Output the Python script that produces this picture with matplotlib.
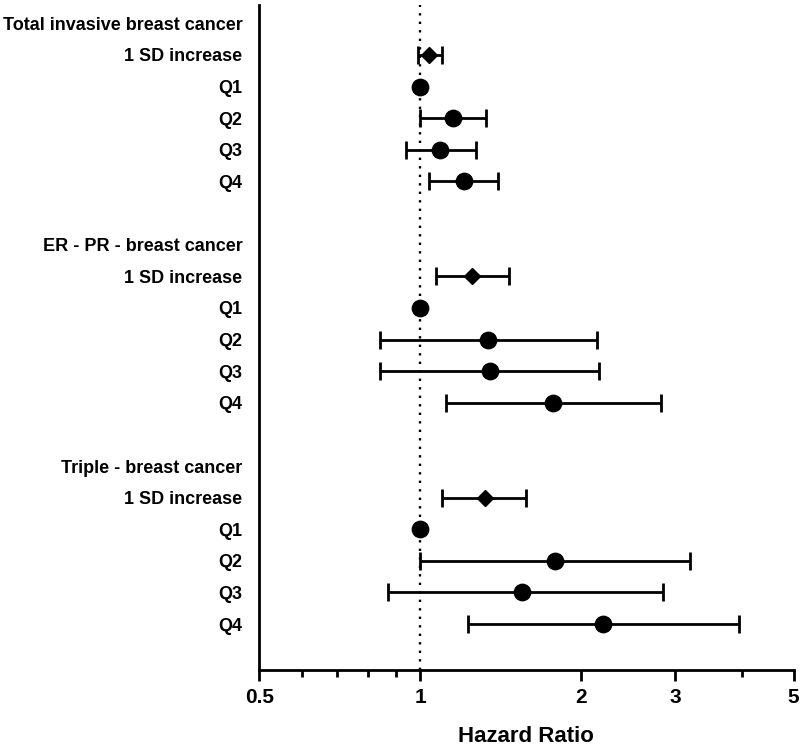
import matplotlib
matplotlib.use("Agg")
import matplotlib.pyplot as plt
import numpy as np
from matplotlib.ticker import FixedLocator, FixedFormatter, NullFormatter

plt.rcParams['font.family'] = ['Liberation Sans', 'DejaVu Sans']
plt.rcParams['font.weight'] = 'bold'

# Row labels (top to bottom); blank strings are spacer rows
row_labels = [
    "Total invasive breast cancer", "1 SD increase", "Q1", "Q2", "Q3", "Q4", "",
    "ER - PR - breast cancer", "1 SD increase", "Q1", "Q2", "Q3", "Q4", "",
    "Triple - breast cancer", "1 SD increase", "Q1", "Q2", "Q3", "Q4",
]

# Hazard ratios with 95% CI (row index -> values)
total_rows = [1, 2, 3, 4, 5]
total_hr = [1.04, 1.00, 1.15, 1.09, 1.21]
total_lo = [0.99, 1.00, 1.00, 0.94, 1.04]
total_hi = [1.10, 1.00, 1.33, 1.27, 1.40]

erpr_rows = [8, 9, 10, 11, 12]
erpr_hr = [1.25, 1.00, 1.34, 1.35, 1.77]
erpr_lo = [1.07, 1.00, 0.84, 0.84, 1.12]
erpr_hi = [1.47, 1.00, 2.14, 2.16, 2.82]

triple_rows = [15, 16, 17, 18, 19]
triple_hr = [1.32, 1.00, 1.79, 1.55, 2.20]
triple_lo = [1.10, 1.00, 1.00, 0.87, 1.23]
triple_hi = [1.58, 1.00, 3.20, 2.85, 3.95]

x_major = [0.5, 1, 2, 3, 5]
x_major_labels = ["0.5", "1", "2", "3", "5"]
x_minor = [0.6, 0.7, 0.8, 0.9, 4]

fig = plt.figure(figsize=(8, 7.5), dpi=100)
ax = fig.add_axes([0.324, 0.1067, 0.668, 0.8863])

ax.axvline(1, color='black', lw=1.7, linestyle=(0, (1, 2.6)), zorder=1)

for rows, hr, lo, hi in [(total_rows, total_hr, total_lo, total_hi),
                         (erpr_rows, erpr_hr, erpr_lo, erpr_hi),
                         (triple_rows, triple_hr, triple_lo, triple_hi)]:
    hr = np.array(hr); lo = np.array(lo); hi = np.array(hi); rows = np.array(rows)
    has_ci = hi > lo
    ax.errorbar(hr[has_ci], rows[has_ci],
                xerr=[hr[has_ci] - lo[has_ci], hi[has_ci] - hr[has_ci]],
                fmt='none', ecolor='black', elinewidth=2.0, capsize=6.3,
                capthick=2.0, zorder=2)
    # first row is 1 SD increase -> diamond; rest circles
    ax.plot(hr[:1], rows[:1], marker='D', ms=8.4, color='black', ls='none', zorder=3)
    ax.plot(hr[1:], rows[1:], marker='o', ms=11.8, color='black', ls='none', zorder=3)

ax.set_xscale('log')
ax.set_xlim(0.5, 5)
ax.xaxis.set_major_locator(FixedLocator(x_major))
ax.xaxis.set_major_formatter(FixedFormatter(x_major_labels))
ax.xaxis.set_minor_locator(FixedLocator(x_minor))
ax.xaxis.set_minor_formatter(NullFormatter())

ax.set_ylim(20.45, -0.57)
ax.set_yticks(range(len(row_labels)))
ax.set_yticklabels(row_labels, fontsize=13, fontweight='bold')
ax.tick_params(axis='y', length=0, pad=12)
ax.tick_params(axis='x', which='major', length=8, width=2.0, labelsize=15, pad=5)
ax.tick_params(axis='x', which='minor', length=5, width=2.0)
for lbl in ax.get_xticklabels():
    lbl.set_fontweight('bold')

for s in ['top', 'right']:
    ax.spines[s].set_visible(False)
for s in ['left', 'bottom']:
    ax.spines[s].set_linewidth(2.0)

ax.set_xlabel("Hazard Ratio", fontsize=16, fontweight='bold', labelpad=14)

fig.savefig("out.png", dpi=100)
